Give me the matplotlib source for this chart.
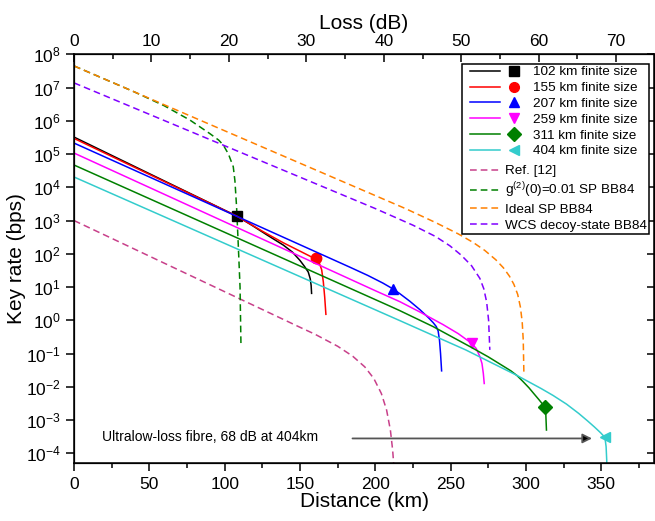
import numpy as np
import matplotlib
matplotlib.use("Agg")
import matplotlib.pyplot as plt
from matplotlib.lines import Line2D
from matplotlib.legend_handler import HandlerTuple
from matplotlib.patches import Rectangle

plt.rcParams['font.family'] = ['Liberation Sans', 'DejaVu Sans']
plt.rcParams['mathtext.fontset'] = 'custom'
plt.rcParams['mathtext.rm'] = 'Liberation Sans'
plt.rcParams['mathtext.it'] = 'Liberation Sans:italic'

# finite size curves: distance (km) and log10 of key rate (bps)
km_102 = [0, 108.2, 118, 128, 139, 145, 150, 153, 155.5, 156.8, 157.4, 157.7]
lg_102 = [5.51, 3.13, 2.86, 2.57, 2.26, 2.05, 1.80, 1.62, 1.45, 1.25, 1.05, 0.81]
km_155 = [0, 108.2, 125, 139, 150, 157, 160.6, 163, 164.4, 165.5, 166.4, 167.2]
lg_155 = [5.47, 3.13, 2.68, 2.33, 2.08, 1.92, 1.84, 1.70, 1.52, 1.15, 0.70, 0.18]
km_207 = [0, 183, 195, 205, 211.5, 216.3, 223, 229.6, 235, 238.4, 240.5, 241.7, 242.6, 243.3, 244.0]
lg_207 = [5.33, 1.60, 1.35, 1.12, 0.95, 0.80, 0.57, 0.32, 0.09, -0.07, -0.19, -0.32, -0.60, -1.00, -1.52]
km_259 = [0, 200, 216.3, 230, 245, 255, 263.9, 267, 269.4, 270.8, 271.7, 272.3]
lg_259 = [5.03, 0.89, 0.56, 0.24, -0.13, -0.40, -0.69, -0.85, -1.09, -1.30, -1.60, -1.90]
km_311 = [0, 210, 216.3, 238.4, 262.8, 275, 285, 290, 294, 298, 302, 305.5, 308.5, 311, 312.5, 313.2, 313.6]
lg_311 = [4.67, 0.42, 0.29, -0.19, -0.79, -1.10, -1.38, -1.52, -1.66, -1.84, -2.03, -2.22,
          -2.38, -2.52, -2.62, -2.85, -3.30]
km_404 = [0, 216.3, 260, 293.7, 310, 318, 326.9, 335, 341, 345.5, 349.5, 352.4, 353.2, 353.6, 353.8]
lg_404 = [4.31, -0.01, -0.89, -1.65, -2.05, -2.26, -2.52, -2.80, -3.03, -3.21, -3.38, -3.52,
          -3.80, -4.20, -4.60]

# markers on each finite size curve
mark_km = [108.2, 160.6, 211.5, 263.9, 312.5, 352.4]
mark_lg = [3.13, 1.86, 0.95, -0.69, -2.60, -3.52]

# reference curves
km_ref = [0, 150, 160, 175, 185, 193, 199, 204, 207.5, 210, 211.5, 212.5]
lg_ref = [3.0, -0.21, -0.42, -0.78, -1.08, -1.40, -1.75, -2.20, -2.70, -3.30, -3.90, -4.50]
km_g2 = [0, 40, 60, 77, 90, 96, 99.1, 102.5, 105.7, 106.8, 107.9, 109, 110.2, 110.8]
lg_g2 = [7.65, 6.87, 6.45, 6.02, 5.62, 5.42, 5.27, 5.00, 4.62, 4.20, 3.42, 2.30, 1.01, -0.69]
km_sp = [0, 220, 240, 255, 265, 272.7, 280, 285, 289, 292, 294.5, 296.3, 297.5, 298.2, 298.6]
lg_sp = [7.65, 3.36, 2.94, 2.60, 2.34, 2.10, 1.82, 1.58, 1.33, 1.08, 0.78, 0.40, -0.05, -0.60, -1.55]
km_wcs = [0, 200, 225, 240, 249.5, 257, 263.9, 269.4, 272, 273.9, 275.2, 276.0]
lg_wcs = [7.14, 3.36, 2.86, 2.52, 2.24, 1.96, 1.64, 1.26, 0.95, 0.55, 0.00, -0.89]

labels = ["102 km finite size", "155 km finite size", "207 km finite size",
          "259 km finite size", "311 km finite size", "404 km finite size"]
ref_labels = ["Ref. [12]", r"g$^{\mathregular{(2)}}$(0)=0.01 SP BB84",
              "Ideal SP BB84", "WCS decoy-state BB84"]

colors = ['black', '#FF0000', '#0000FF', '#FF00FF', '#008000', '#33CCCC']
markers = ['s', 'o', '^', 'v', 'D', '<']
ref_colors = ['#C8408A', '#008000', '#FF8000', '#8000FF']


def rate(lg):
    return 10.0 ** np.asarray(lg)


fig = plt.figure(figsize=(6.55, 5.21), dpi=100)
ax = fig.add_axes([0.113, 0.1107, 0.8855, 0.7851])

dash = (4.4, 2.6)
lw = 1.1
ms = 7.5
ref_lines = []
for k, g, c in zip([km_ref, km_g2, km_sp, km_wcs], [lg_ref, lg_g2, lg_sp, lg_wcs], ref_colors):
    ln, = ax.plot(k, rate(g), color=c, lw=lw, dashes=dash)
    ref_lines.append(ln)

fin_handles = []
for i, (k, g) in enumerate(zip([km_102, km_155, km_207, km_259, km_311, km_404],
                               [lg_102, lg_155, lg_207, lg_259, lg_311, lg_404])):
    ax.plot(k, rate(g), color=colors[i], lw=lw)
    ax.plot([mark_km[i]], rate([mark_lg[i]]), linestyle='none', marker=markers[i],
            color=colors[i], markersize=ms)
    fin_handles.append((Line2D([], [], color=colors[i], lw=lw),
                        Line2D([], [], ls='none', marker=markers[i], color=colors[i], markersize=7)))

ax.annotate("", xy=(345.7, 2.8e-4), xytext=(183, 2.8e-4),
            arrowprops=dict(arrowstyle='-|>', ec='#555555', fc='black', lw=1.3, mutation_scale=14))
ax.text(18.5, 3.15e-4, "Ultralow-loss fibre, 68 dB at 404km", fontsize=10, ha='left', va='center')

ax.set_yscale('log')
ax.set_xlim(0, 385)
ax.set_ylim(5e-5, 1e8)
ax.set_xticks(np.arange(0, 351, 50))
ax.set_xticks(np.arange(25, 385, 25), minor=True)
ax.set_yticks([10.0 ** p for p in range(-4, 9)])
ax.yaxis.set_minor_locator(matplotlib.ticker.NullLocator())
ax.tick_params(axis='both', which='major', direction='out', length=6, width=1.1, labelsize=12.5)
ax.tick_params(axis='x', which='minor', direction='out', length=3.5, width=1.1)
ax.set_xlabel("Distance (km)", fontsize=15, labelpad=0)
ax.set_ylabel("Key rate (bps)", fontsize=15, labelpad=0)
for s in ax.spines.values():
    s.set_linewidth(1.1)

# right axis ticks
axr = ax.twinx()
axr.set_yscale('log')
axr.set_ylim(ax.get_ylim())
axr.set_yticks([10.0 ** p for p in range(-4, 9)])
axr.yaxis.set_minor_locator(matplotlib.ticker.NullLocator())
axr.tick_params(axis='y', direction='in', length=5, width=1.1, labelright=False)

# top loss axis
db_per_km = 0.1945
axt = ax.twiny()
axt.set_xlim(0, 385 * db_per_km)
axt.set_xticks(np.arange(0, 71, 10))
axt.set_xticks(np.arange(5, 75, 5), minor=True)
axt.tick_params(axis='x', which='major', direction='in', length=6, width=1.1, labelsize=12.5)
axt.tick_params(axis='x', which='minor', direction='in', length=3.5, width=1.1)
axt.set_xlabel("Loss (dB)", fontsize=15, labelpad=4)

# legend: frame drawn by hand, two groups of entries inside
fx0, fx1 = 462 / 655, 649 / 655
fy0, fy1 = 1 - 234 / 521, 1 - 64 / 521
frame = Rectangle((fx0, fy0), fx1 - fx0, fy1 - fy0, transform=fig.transFigure,
                  fill=True, fc='white', ec='black', lw=1.1, zorder=5)
fig.patches.append(frame)

leg1 = fig.legend(fin_handles, labels, handler_map={tuple: HandlerTuple(ndivide=None, pad=0)},
                  loc='upper left', bbox_to_anchor=(470 / 655, 1 - 66 / 521), frameon=False,
                  fontsize=9.7, handlelength=4.4, handletextpad=0.3, labelspacing=0.25,
                  borderpad=0, borderaxespad=0)
leg2 = fig.legend(ref_lines, ref_labels, loc='upper left',
                  bbox_to_anchor=(470 / 655, 1 - 165 / 521), frameon=False,
                  fontsize=9.7, handlelength=2.25, handletextpad=0.35, labelspacing=0.25,
                  borderpad=0, borderaxespad=0)
leg1.set_zorder(6)
leg2.set_zorder(6)

fig.savefig("out.png", dpi=100)
